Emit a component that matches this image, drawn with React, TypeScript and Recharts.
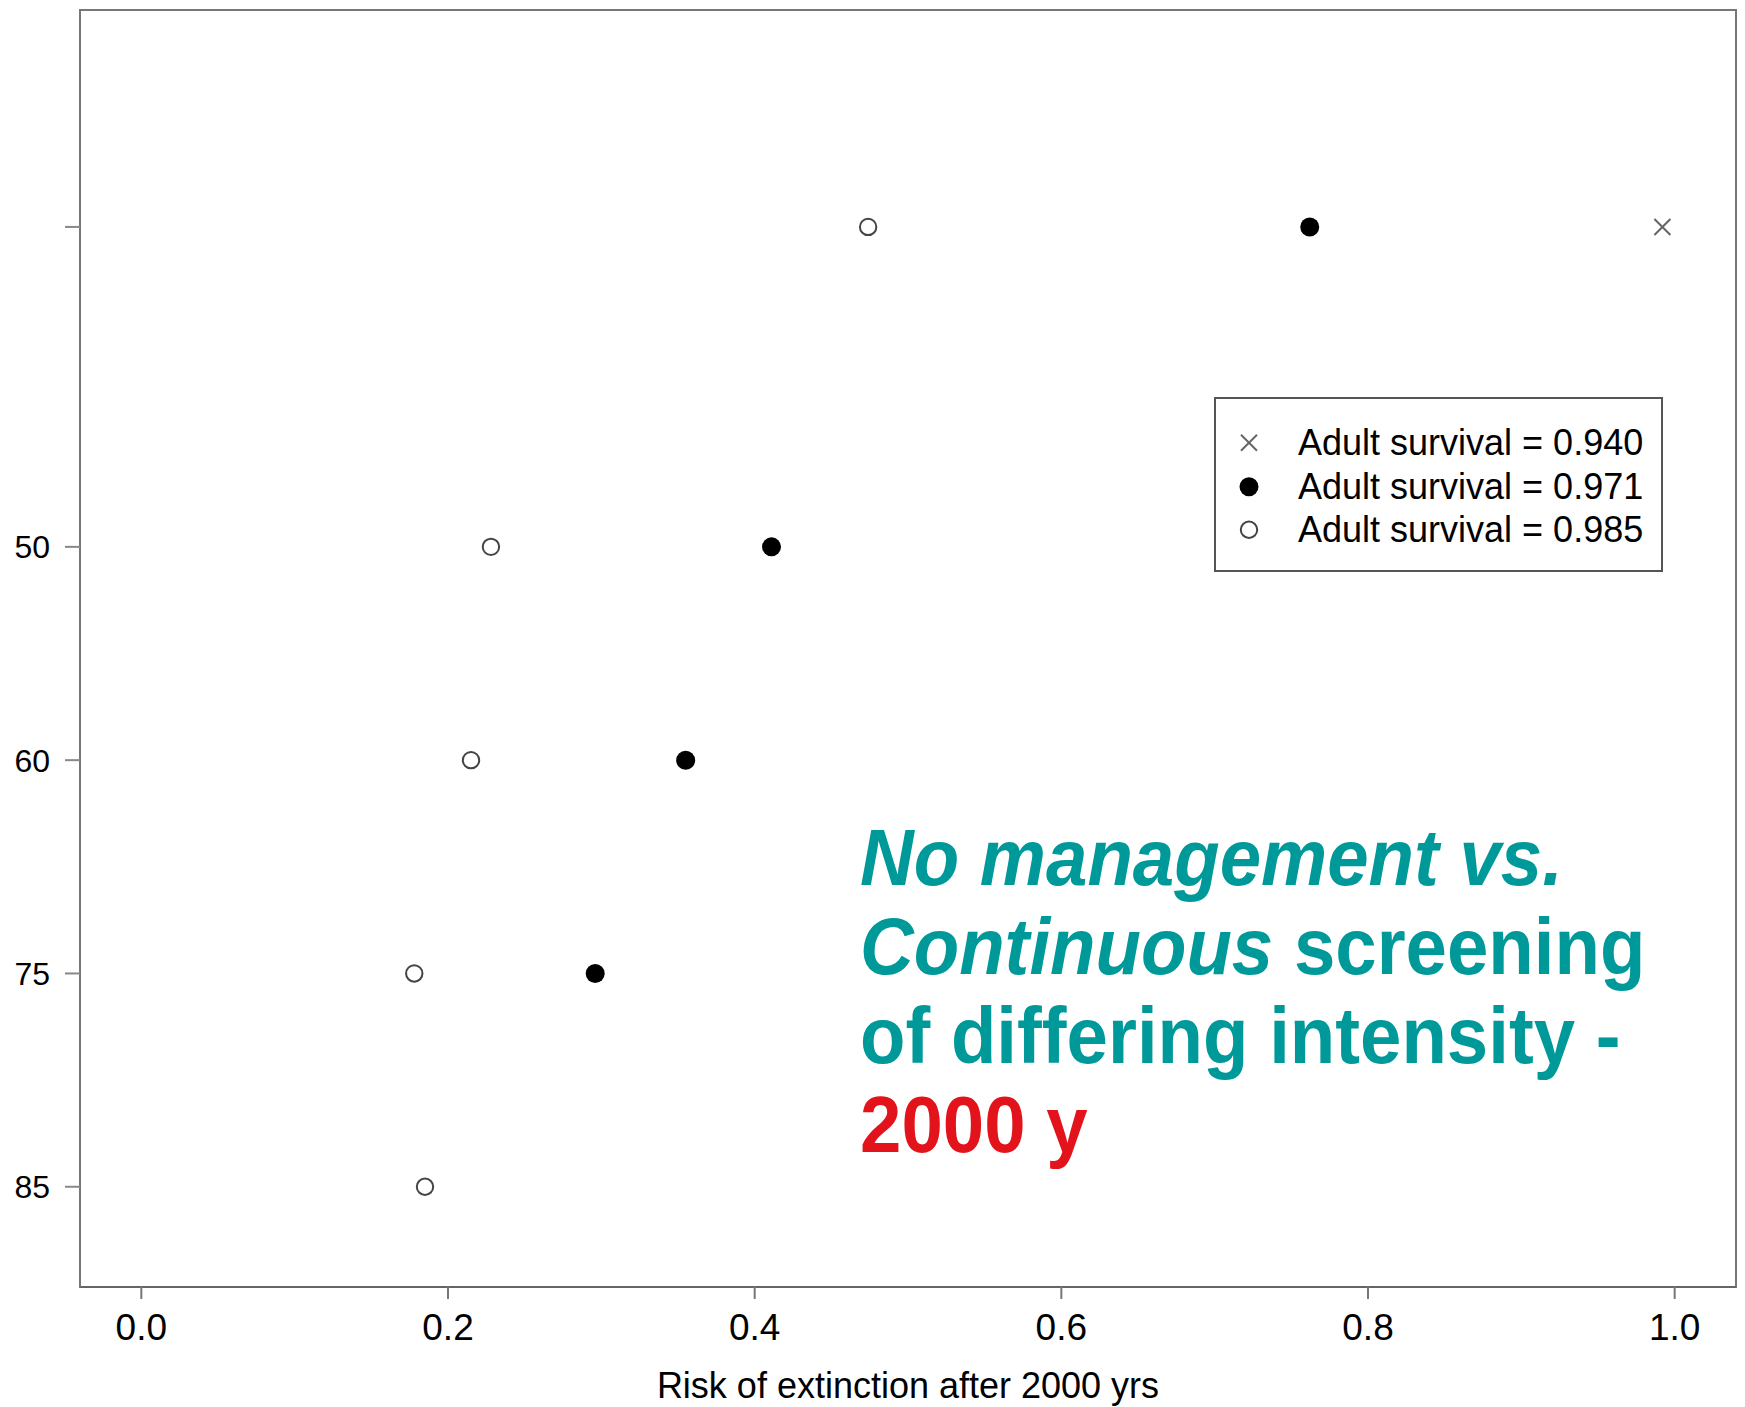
import { Legend, ReferenceArea, Scatter, ScatterChart, XAxis, YAxis } from "recharts";

// screening intensity rows (top row = no management, unlabelled)
const intensity = ["", "50", "60", "75", "85"];
const rowPos = [0, 1.5, 2.5, 3.5, 4.5];
const xTicks = [0, 0.2, 0.4, 0.6, 0.8, 1.0];

// risk of extinction after 2000 yrs, per row
const risk940 = [0.992];
const risk971 = [0.762, 0.411, 0.355, 0.296];
const risk985 = [0.474, 0.228, 0.215, 0.178, 0.185];

const seriesNames = [
  "Adult survival = 0.940",
  "Adult survival = 0.971",
  "Adult survival = 0.985",
];

const FONT = '"Liberation Sans", Arial, Helvetica, sans-serif';
const TEAL = "#00999a";
const RED = "#e3131b";

const toPoints = (vals: number[]) => vals.map((x, i) => ({ x, y: rowPos[i] }));

const CrossMark = ({ cx, cy }: any) => (
  <g stroke="#666" strokeWidth={2}>
    <line x1={cx - 8} y1={cy - 8} x2={cx + 8} y2={cy + 8} />
    <line x1={cx - 8} y1={cy + 8} x2={cx + 8} y2={cy - 8} />
  </g>
);
const FilledMark = ({ cx, cy }: any) => <circle cx={cx} cy={cy} r={9.5} fill="#000" />;
const OpenMark = ({ cx, cy }: any) => (
  <circle cx={cx} cy={cy} r={8.2} fill="#fff" stroke="#444" strokeWidth={2} />
);

const markers = [CrossMark, FilledMark, OpenMark];

function LegendBox() {
  return (
    <div
      style={{
        width: 449,
        height: 175,
        boxSizing: "border-box",
        border: "2px solid #555",
        background: "#fff",
        paddingTop: 22,
        fontFamily: FONT,
      }}
    >
      {seriesNames.map((name, i) => {
        const Mark = markers[i];
        return (
          <div key={name} style={{ display: "flex", alignItems: "center", height: 43.5 }}>
            <svg width={70} height={43.5} style={{ flexShrink: 0 }}>
              <Mark cx={33} cy={21.75} />
            </svg>
            <span style={{ fontSize: 36, color: "#000", marginLeft: 12, lineHeight: "43.5px" }}>
              {name}
            </span>
          </div>
        );
      })}
    </div>
  );
}

export default function App() {
  return (
    <div style={{ position: "absolute", left: 0, top: 0, width: 1745, height: 1407, background: "#fff", fontFamily: FONT }}>
      <ScatterChart width={1745} height={1407} margin={{ top: 10, right: 9, left: 0, bottom: 0 }}>
        <XAxis
          type="number"
          dataKey="x"
          domain={[-0.04, 1.04]}
          allowDataOverflow
          ticks={xTicks}
          tickFormatter={(v: number) => v.toFixed(1)}
          height={120}
          tickSize={12}
          tickMargin={15}
          axisLine={{ stroke: "#666", strokeWidth: 2 }}
          tickLine={{ stroke: "#777", strokeWidth: 2 }}
          tick={{ fontSize: 37, fill: "#000", fontFamily: FONT }}
          label={{
            value: "Risk of extinction after 2000 yrs",
            position: "insideBottom",
            offset: 9,
            style: { fontSize: 36, fill: "#000", fontFamily: FONT },
          }}
        />
        <YAxis
          type="number"
          dataKey="y"
          domain={[-1.017, 4.97]}
          allowDataOverflow
          reversed
          ticks={rowPos}
          tickFormatter={(v: number) => intensity[rowPos.indexOf(v)] ?? ""}
          width={80}
          tickSize={15}
          tickMargin={15}
          axisLine={{ stroke: "#777", strokeWidth: 2 }}
          tickLine={{ stroke: "#888", strokeWidth: 2 }}
          tick={{ fontSize: 32, fill: "#000", fontFamily: FONT }}
        />
        <ReferenceArea
          x1={-0.04}
          x2={1.04}
          y1={-1.017}
          y2={4.97}
          fill="none"
          stroke="#777"
          strokeWidth={2}
          ifOverflow="visible"
        />
        <Scatter name={seriesNames[0]} data={toPoints(risk940)} shape={CrossMark} isAnimationActive={false} />
        <Scatter name={seriesNames[1]} data={toPoints(risk971)} shape={FilledMark} isAnimationActive={false} />
        <Scatter name={seriesNames[2]} data={toPoints(risk985)} shape={OpenMark} isAnimationActive={false} />
        <Legend
          layout="vertical"
          align="center"
          verticalAlign="middle"
          content={() => <LegendBox />}
          wrapperStyle={{ left: 1214, top: 397, width: 449, height: 175 }}
        />
      </ScatterChart>
      <div
        style={{
          position: "absolute",
          left: 860,
          top: 813,
          fontFamily: FONT,
          fontWeight: "bold",
          fontSize: 80,
          lineHeight: "89px",
          color: TEAL,
          whiteSpace: "nowrap",
          transform: "scaleX(0.93)",
          transformOrigin: "left top",
        }}
      >
        <div style={{ fontStyle: "italic" }}>No management vs.</div>
        <div>
          <span style={{ fontStyle: "italic" }}>Continuous</span> screening
        </div>
        <div>of differing intensity -</div>
        <div style={{ color: RED }}>2000 y</div>
      </div>
    </div>
  );
}
